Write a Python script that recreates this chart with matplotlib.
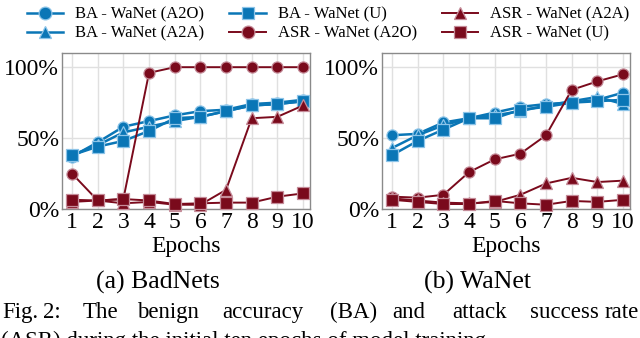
import matplotlib
matplotlib.use("Agg")
import matplotlib.pyplot as plt

plt.rcParams['font.family'] = ['Liberation Serif', 'DejaVu Serif']

epochs = [1, 2, 3, 4, 5, 6, 7, 8, 9, 10]
x_ticklabels = ["1", "2", "3", "4", "5", "6", "7", "8", "9", "10"]
y_ticks = [0, 50, 100]
y_ticklabels = ["0%", "50%", "100%"]

# (a) BadNets
bad_ba_a2o = [37, 47, 58, 62, 66, 69, 70, 74, 75, 77]
bad_ba_a2a = [38, 45, 54, 58, 62, 65, 69, 73, 74, 76]
bad_ba_u = [38, 44, 48, 55, 64, 65, 69, 73, 74, 76]
bad_asr_a2o = [25, 6, 7, 96, 100, 100, 100, 100, 100, 100]
bad_asr_a2a = [5, 6, 4, 5, 3, 3, 13.5, 64, 65, 73]
bad_asr_u = [6.5, 6, 7, 6, 3.5, 4, 4.5, 4.5, 8.7, 11]

# (b) WaNet
wa_ba_a2o = [52, 53, 61, 64, 68, 72, 74, 75, 77, 82]
wa_ba_a2a = [43, 52, 59, 64, 66, 69, 73, 76, 79, 74]
wa_ba_u = [38, 48, 56, 64, 64, 70, 72, 75, 76, 77]
wa_asr_a2o = [8.7, 8, 10, 26, 35, 39, 52, 84, 90, 95]
wa_asr_a2a = [7.5, 6, 4.5, 4, 5, 10, 18, 22, 19, 20]
wa_asr_u = [6.5, 5, 3.5, 3.5, 5.7, 4, 3, 5.7, 5, 6.5]

labels = ["BA - WaNet (A2O)", "BA - WaNet (A2A)", "BA - WaNet (U)",
          "ASR - WaNet (A2O)", "ASR - WaNet (A2A)", "ASR - WaNet (U)"]
subcaptions = ["(a) BadNets", "(b) WaNet"]
caption1_words = ["Fig.", "2:", "The", "benign", "accuracy", "(BA)", "and",
                  "attack", "success", "rate"]
caption1_x = [2, 43, 83, 137, 222, 330, 392, 452, 530, 608]
caption2 = "(ASR) during the initial ten epochs of model training."

BLUE = '#0a76b6'
RED = '#7a0a1c'
BLUE_E = '#8cc4e8'
RED_E = '#c58c99'

W, H = 640, 338
fig = plt.figure(figsize=(W / 100, H / 100), dpi=100)

def px_axes(l, t, r, b):
    return fig.add_axes([l / W, 1 - b / H, (r - l) / W, (b - t) / H])

panels = [
    (px_axes(62, 53, 310, 209), [bad_ba_a2o, bad_ba_a2a, bad_ba_u, bad_asr_a2o, bad_asr_a2a, bad_asr_u]),
    (px_axes(382, 53, 630, 209), [wa_ba_a2o, wa_ba_a2a, wa_ba_u, wa_asr_a2o, wa_asr_a2a, wa_asr_u]),
]
styles = [(BLUE, BLUE_E, 'o'), (BLUE, BLUE_E, '^'), (BLUE, BLUE_E, 's'),
          (RED, RED_E, 'o'), (RED, RED_E, '^'), (RED, RED_E, 's')]

handles = []
for ax, series in panels:
    handles = []
    for ys, (c, ec, m), lab in zip(series, styles, labels):
        h, = ax.plot(epochs, ys, color=c, marker=m, markersize=8,
                     markeredgecolor=ec, markeredgewidth=0.9,
                     linewidth=1.8 if c == BLUE else 1.4, label=lab,
                     clip_on=False, zorder=3)
        handles.append(h)
    ax.set_xlim(0.61, 10.27)
    ax.set_ylim(0, 110)
    ax.set_xticks(epochs)
    ax.set_xticklabels(x_ticklabels)
    ax.set_yticks(y_ticks)
    ax.set_yticklabels(y_ticklabels)
    ax.tick_params(length=0, labelsize=17, pad=2)
    ax.grid(True, color='#e0e0e0', linewidth=1.0, zorder=0)
    ax.set_axisbelow(True)
    for s in ax.spines.values():
        s.set_color('#8a8a8a')
        s.set_linewidth(1.0)
    ax.set_xlabel("Epochs", fontsize=17, labelpad=2.5)

fig.legend(handles=handles, labels=labels, ncol=3, loc='center',
           bbox_to_anchor=(328 / W, 1 - 24 / H), frameon=False,
           fontsize=12, handlelength=2.2, handletextpad=0.7, markerscale=1.15,
           columnspacing=1.5, labelspacing=0.2, borderpad=0, borderaxespad=0)

fig.text(158 / W, 1 - 282 / H, subcaptions[0], ha='center', va='center', fontsize=18.5)
fig.text(478 / W, 1 - 282 / H, subcaptions[1], ha='center', va='center', fontsize=18.5)

for i, (w, x) in enumerate(zip(caption1_words, caption1_x)):
    if i == len(caption1_words) - 1:
        fig.text(639 / W, 1 - 318 / H, w, ha='right', va='baseline', fontsize=16.5)
    else:
        fig.text(x / W, 1 - 318 / H, w, ha='left', va='baseline', fontsize=16.5)
fig.text(1 / W, 1 - 347 / H, caption2, ha='left', va='baseline', fontsize=16.5)

fig.savefig("out.png", dpi=100)
